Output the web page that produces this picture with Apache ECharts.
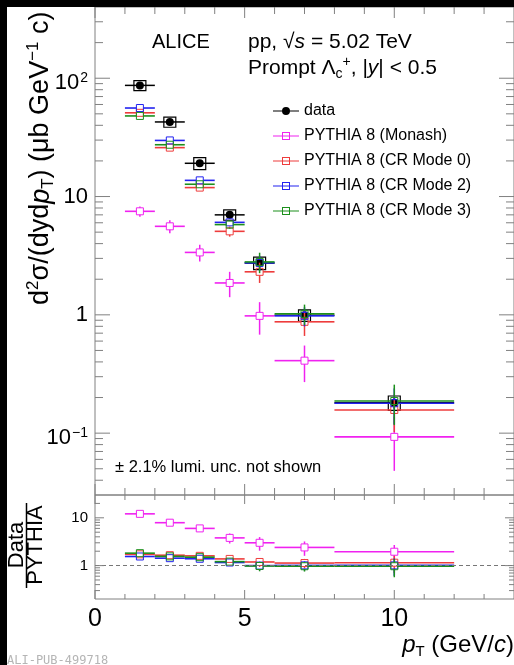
<!DOCTYPE html>
<html>
<head>
<meta charset="utf-8">
<script src="https://cdn.jsdelivr.net/npm/echarts@6.0.0/dist/echarts.min.js"></script>
<style>
html, body { margin: 0; padding: 0; background: #000; }
#main { position: absolute; left: 7px; top: 7px; width: 507px; height: 658px; background: #fff; }
</style>
</head>
<body>
<div id="main"></div>
<script>
// pT bins (GeV/c)
var binLo = [1, 2, 3, 4, 5, 6, 8];
var binHi = [2, 3, 4, 5, 6, 8, 12];
var binCenter = [1.5, 2.5, 3.5, 4.5, 5.5, 7, 10];

// ALICE prompt Lambda_c cross section (ub GeV^-1 c)
var dataY = [87, 42.7, 19.1, 7.0, 2.74, 0.99, 0.181];
var dataStat = [5, 2.5, 1.2, 0.5, 0.2, 0.08, 0.02];
var dataSyst = [8.5, 4.2, 2.2, 0.7, 0.33, 0.11, 0.025];

// PYTHIA 8 predictions
var monashY = [7.5, 5.6, 3.37, 1.86, 0.98, 0.41, 0.093];
var monashErr = [0.75, 0.7, 0.55, 0.45, 0.3, 0.14, 0.045];
var cr0Y = [51, 25.9, 11.9, 5.08, 2.31, 0.873, 0.157];
var cr0Err = [1.5, 0.8, 0.5, 0.5, 0.45, 0.21, 0.055];
var cr2Y = [56, 29.8, 13.7, 6.05, 2.75, 0.98, 0.179];
var cr2Err = [1.5, 0.9, 0.5, 0.4, 0.4, 0.18, 0.06];
var cr3Y = [48, 27.4, 12.7, 5.79, 2.8, 1.02, 0.187];
var cr3Err = [1.4, 0.8, 0.5, 0.45, 0.55, 0.2, 0.07];

// Data / PYTHIA
var ratioMonash = [12.1, 7.9, 6.0, 3.8, 3.0, 2.4, 1.95];
var ratioMonashErr = [1.0, 0.8, 0.7, 0.9, 0.95, 0.8, 0.75];
var ratioCr0 = [1.72, 1.65, 1.6, 1.38, 1.19, 1.13, 1.15];
var ratioCr0Err = [0.08, 0.08, 0.08, 0.1, 0.25, 0.25, 0.45];
var ratioCr2 = [1.55, 1.43, 1.39, 1.16, 1.0, 1.01, 1.01];
var ratioCr2Err = [0.07, 0.07, 0.07, 0.1, 0.2, 0.22, 0.4];
var ratioCr3 = [1.82, 1.56, 1.5, 1.21, 0.98, 0.97, 0.97];
var ratioCr3Err = [0.08, 0.08, 0.08, 0.1, 0.22, 0.22, 0.4];

// tick positions
var xMajorTicks = [0, 5, 10];
var xMinorTicks = [1, 2, 3, 4, 6, 7, 8, 9, 11, 12, 13];
var yMajorTicks = [0.1, 1, 10, 100];
var yMinorTicks = [0.04, 0.05, 0.06, 0.07, 0.08, 0.09, 0.2, 0.3, 0.4, 0.5, 0.6, 0.7, 0.8, 0.9,
  2, 3, 4, 5, 6, 7, 8, 9, 20, 30, 40, 50, 60, 70, 80, 90, 200, 300];
var rMajorTicks = [1, 10];
var rMinorTicks = [0.3, 0.4, 0.5, 0.6, 0.7, 0.8, 0.9, 2, 3, 4, 5, 6, 7, 8, 9, 20];

var names = ['data', 'PYTHIA 8 (Monash)', 'PYTHIA 8 (CR Mode 0)', 'PYTHIA 8 (CR Mode 2)', 'PYTHIA 8 (CR Mode 3)'];

var fontFamily = 'Liberation Sans, Arial, Helvetica, sans-serif';
var frameColor = '#808080';
var colMonash = '#f022f0';
var colCr0 = '#ee3c3c';
var colCr2 = '#2222f0';
var colCr3 = '#1c901c';
var markerHalf = 3.5;
var boxHalfWidth = 0.2;

var myChart = echarts.init(document.getElementById('main'));

function seg(x1, y1, x2, y2, color, w) {
    return {type: 'line', shape: {x1: x1, y1: y1, x2: x2, y2: y2}, style: {stroke: color, lineWidth: w}};
}
function clampY(py, cs) {
    return Math.min(Math.max(py, cs.y), cs.y + cs.height);
}

function tickSeries(gridIdx, xMaj, xMin, yMaj, yMin, len) {
    var items = [];
    xMaj.forEach(function (v) { items.push([v, 1, 1]); });
    xMin.forEach(function (v) { items.push([v, 1, 0]); });
    yMaj.forEach(function (v) { items.push([1, v, 3]); });
    yMin.forEach(function (v) { items.push([1, v, 2]); });
    return {
        type: 'custom', xAxisIndex: gridIdx, yAxisIndex: gridIdx, silent: true, z: 10,
        data: items,
        renderItem: function (params, api) {
            var cs = params.coordSys;
            var kind = api.value(2);
            if (kind < 2) {
                var px = api.coord([api.value(0), 1])[0];
                var l = kind === 1 ? len[0] : len[1];
                return {type: 'group', children: [
                    seg(px, cs.y + cs.height, px, cs.y + cs.height - l, frameColor, 1),
                    seg(px, cs.y, px, cs.y + l, frameColor, 1)
                ]};
            }
            var py = api.coord([1, api.value(1)])[1];
            var m = kind === 3 ? len[2] : len[3];
            return {type: 'group', children: [
                seg(cs.x, py, cs.x + m, py, frameColor, 1),
                seg(cs.x + cs.width, py, cs.x + cs.width - m, py, frameColor, 1)
            ]};
        }
    };
}

function modelSeries(name, color, yArr, errArr, gridIdx) {
    var rows = binCenter.map(function (c, i) { return [c, yArr[i], binLo[i], binHi[i], errArr[i]]; });
    return {
        name: name, type: 'custom', xAxisIndex: gridIdx, yAxisIndex: gridIdx,
        itemStyle: {color: color},
        data: rows,
        renderItem: function (params, api) {
            var cs = params.coordSys;
            var y = api.value(1), e = api.value(4);
            var c = api.coord([api.value(0), y]);
            var lo = api.coord([api.value(2), y])[0];
            var hi = api.coord([api.value(3), y])[0];
            var top = clampY(api.coord([api.value(0), y + e])[1], cs);
            var bot = y - e > 0 ? clampY(api.coord([api.value(0), y - e])[1], cs) : cs.y + cs.height;
            var h = markerHalf;
            var kids = [];
            kids.push(seg(lo, c[1], c[0] - h, c[1], color, 1.6));
            kids.push(seg(c[0] + h, c[1], hi, c[1], color, 1.6));
            if (top < c[1] - h) kids.push(seg(c[0], c[1] - h, c[0], top, color, 1.5));
            if (bot > c[1] + h) kids.push(seg(c[0], c[1] + h, c[0], bot, color, 1.5));
            kids.push({type: 'rect', shape: {x: c[0] - h, y: c[1] - h, width: 2 * h, height: 2 * h},
                style: {fill: 'none', stroke: color, lineWidth: 1}});
            return {type: 'group', children: kids};
        }
    };
}

var dataSeries = {
    name: 'data', type: 'custom', xAxisIndex: 0, yAxisIndex: 0,
    itemStyle: {color: '#000'},
    data: binCenter.map(function (c, i) { return [c, dataY[i], binLo[i], binHi[i], dataStat[i], dataSyst[i]]; }),
    renderItem: function (params, api) {
        var x = api.value(0), y = api.value(1);
        var c = api.coord([x, y]);
        var lo = api.coord([api.value(2), y])[0];
        var hi = api.coord([api.value(3), y])[0];
        var st = api.value(4), sy = api.value(5);
        var bl = api.coord([x - boxHalfWidth, y + sy]);
        var br = api.coord([x + boxHalfWidth, y - sy]);
        return {type: 'group', children: [
            seg(lo, c[1], hi, c[1], '#000', 1.5),
            seg(c[0], api.coord([x, y + st])[1], c[0], api.coord([x, y - st])[1], '#000', 1.5),
            {type: 'rect', shape: {x: bl[0], y: bl[1], width: br[0] - bl[0], height: br[1] - bl[1]},
                style: {fill: 'none', stroke: '#000', lineWidth: 1.2}},
            {type: 'circle', shape: {cx: c[0], cy: c[1], r: 4}, style: {fill: '#000'}}
        ]};
    }
};

// ROOT-like log labels: base sits a little below the tick, exponent near the tick
function logLabel(big, small, supBox) {
    return {
        margin: 7,
        formatter: function (v) {
            var l = Math.log10(v), e = Math.round(l);
            if (Math.abs(l - e) > 1e-6) return '';
            if (e === 0) return '{c|1}';
            if (e === 1) return '{c|10}';
            return '{b|10}{s|' + (e < 0 ? '\u2212' + (-e) : e) + '}';
        },
        rich: {
            c: {fontSize: big, fontFamily: fontFamily, color: '#000', lineHeight: big},
            b: {fontSize: big, fontFamily: fontFamily, color: '#000', lineHeight: big, verticalAlign: 'bottom'},
            s: {fontSize: small, fontFamily: fontFamily, color: '#000', lineHeight: supBox, verticalAlign: 'middle', padding: [0, 0, 0, 1]}
        }
    };
}

var modelIcon = 'path://M0,3.4H26V4.6H0Z M9,0H17V8H9Z M10,1V7H16V1Z';
var dataIcon = 'path://M0,3.4H26V4.6H0Z M17,4A4,4 0 1,1 9,4A4,4 0 1,1 17,4Z';

var option = {
    animation: false,
    backgroundColor: '#fff',
    legend: {
        orient: 'vertical', left: 261, top: 91, itemWidth: 26, itemHeight: 8, itemGap: 9,
        selectedMode: false,
        itemStyle: {borderWidth: 0},
        textStyle: {fontFamily: fontFamily, fontSize: 16, color: '#000'},
        data: [
            {name: names[0], icon: dataIcon},
            {name: names[1], icon: modelIcon},
            {name: names[2], icon: modelIcon},
            {name: names[3], icon: modelIcon},
            {name: names[4], icon: modelIcon}
        ]
    },
    grid: [
        {left: 88, top: 0, width: 421.4, height: 488, show: true, borderColor: frameColor, borderWidth: 1, backgroundColor: 'transparent'},
        {left: 88, top: 488, width: 421.4, height: 104, show: true, borderColor: frameColor, borderWidth: 1, backgroundColor: 'transparent'}
    ],
    xAxis: [
        {gridIndex: 0, type: 'value', min: 0, max: 14, interval: 5,
            axisLine: {show: false}, axisTick: {show: false}, splitLine: {show: false}, axisLabel: {show: false}},
        {gridIndex: 1, type: 'value', min: 0, max: 14, interval: 5,
            axisLine: {show: false}, axisTick: {show: false}, splitLine: {show: false},
            axisLabel: {fontSize: 25, fontFamily: fontFamily, color: '#000', margin: 8, showMaxLabel: false}}
    ],
    yAxis: [
        {gridIndex: 0, type: 'log', logBase: 10, min: 0.03, max: 400,
            axisLine: {show: false}, axisTick: {show: false}, splitLine: {show: false},
            axisLabel: logLabel(22, 14, 32)},
        {gridIndex: 1, type: 'log', logBase: 10, min: 0.2, max: 30,
            axisLine: {show: false}, axisTick: {show: false}, splitLine: {show: false},
            axisLabel: logLabel(15, 10, 20)}
    ],
    series: [
        tickSeries(0, xMajorTicks, xMinorTicks, yMajorTicks, yMinorTicks, [11, 7, 15, 8]),
        tickSeries(1, xMajorTicks, xMinorTicks, rMajorTicks, rMinorTicks, [9, 5, 9, 5]),
        dataSeries,
        modelSeries(names[1], colMonash, monashY, monashErr, 0),
        modelSeries(names[2], colCr0, cr0Y, cr0Err, 0),
        modelSeries(names[3], colCr2, cr2Y, cr2Err, 0),
        modelSeries(names[4], colCr3, cr3Y, cr3Err, 0),
        Object.assign(modelSeries(names[1], colMonash, ratioMonash, ratioMonashErr, 1), {
            markLine: {silent: true, symbol: ['none', 'none'], label: {show: false},
                lineStyle: {color: '#777', type: [4, 3], width: 1}, data: [{yAxis: 1}]}
        }),
        modelSeries(names[2], colCr0, ratioCr0, ratioCr0Err, 1),
        modelSeries(names[3], colCr2, ratioCr2, ratioCr2Err, 1),
        modelSeries(names[4], colCr3, ratioCr3, ratioCr3Err, 1)
    ],
    graphic: [
        {type: 'text', x: 145, y: 35, style: {text: 'ALICE', fontSize: 20, fontFamily: fontFamily, fill: '#000', verticalAlign: 'middle'}},
        {type: 'text', x: 241, y: 35, style: {
            text: '{n|pp, \u221A}{i|s}{n| = 5.02 TeV}', verticalAlign: 'middle',
            rich: {n: {fontSize: 21, fontFamily: fontFamily, fill: '#000'}, i: {fontSize: 21, fontFamily: fontFamily, fontStyle: 'italic', fill: '#000'}}
        }},
        {type: 'text', x: 241, y: 61, style: {
            text: '{n|Prompt \u039B}{sub|c}{sup|+}{n|, |}{i|y}{n|| < 0.5}', verticalAlign: 'middle',
            rich: {
                n: {fontSize: 21, lineHeight: 26, fontFamily: fontFamily, fill: '#000'},
                i: {fontSize: 21, lineHeight: 26, fontFamily: fontFamily, fontStyle: 'italic', fill: '#000'},
                sub: {fontSize: 14, lineHeight: 13, fontFamily: fontFamily, fill: '#000', verticalAlign: 'bottom'},
                sup: {fontSize: 14, lineHeight: 13, fontFamily: fontFamily, fill: '#000', verticalAlign: 'top'}
            }
        }},
        {type: 'text', x: 108, y: 460, style: {text: '\u00B1 2.1% lumi. unc. not shown', fontSize: 16.5, fontFamily: fontFamily, fill: '#000', verticalAlign: 'middle'}},
        {type: 'text', x: 34, y: 298, rotation: Math.PI / 2, style: {
            text: '{n|d}{sup|2}{n|\u03C3/(dyd}{i|p}{sub|T}{n|) (\u03BCb GeV}{sup|\u22121}{n| c)}',
            align: 'left', verticalAlign: 'middle',
            rich: {
                n: {fontSize: 27, lineHeight: 32, fontFamily: fontFamily, fill: '#000'},
                i: {fontSize: 27, lineHeight: 32, fontFamily: fontFamily, fontStyle: 'italic', fill: '#000'},
                sub: {fontSize: 17, lineHeight: 17, fontFamily: fontFamily, fill: '#000', verticalAlign: 'bottom'},
                sup: {fontSize: 17, lineHeight: 17, fontFamily: fontFamily, fill: '#000', verticalAlign: 'top'}
            }
        }},
        {type: 'text', x: 10, y: 538, rotation: Math.PI / 2, style: {text: 'Data', fontSize: 22, fontFamily: fontFamily, fill: '#000', align: 'center', verticalAlign: 'middle'}},
        {type: 'line', shape: {x1: 19.5, y1: 496, x2: 19.5, y2: 581}, style: {stroke: '#000', lineWidth: 1.5}},
        {type: 'text', x: 29, y: 538, rotation: Math.PI / 2, style: {text: 'PYTHIA', fontSize: 22, fontFamily: fontFamily, fill: '#000', align: 'center', verticalAlign: 'middle'}},
        {type: 'text', x: 507, y: 638, style: {
            text: '{i|p}{sub|T}{n| (GeV/}{i|c}{n|)}', align: 'right', verticalAlign: 'middle',
            rich: {
                n: {fontSize: 24, lineHeight: 28, fontFamily: fontFamily, fill: '#000'},
                i: {fontSize: 24, lineHeight: 28, fontFamily: fontFamily, fontStyle: 'italic', fill: '#000'},
                sub: {fontSize: 15, lineHeight: 15, fontFamily: fontFamily, fill: '#000', verticalAlign: 'bottom'}
            }
        }},
        {type: 'text', x: 0, y: 654, style: {text: 'ALI-PUB-499718', fontSize: 12, fontFamily: 'DejaVu Sans Mono', fill: '#b5b5b5', verticalAlign: 'middle'}}
    ]
};
myChart.setOption(option);
</script>
</body>
</html>
